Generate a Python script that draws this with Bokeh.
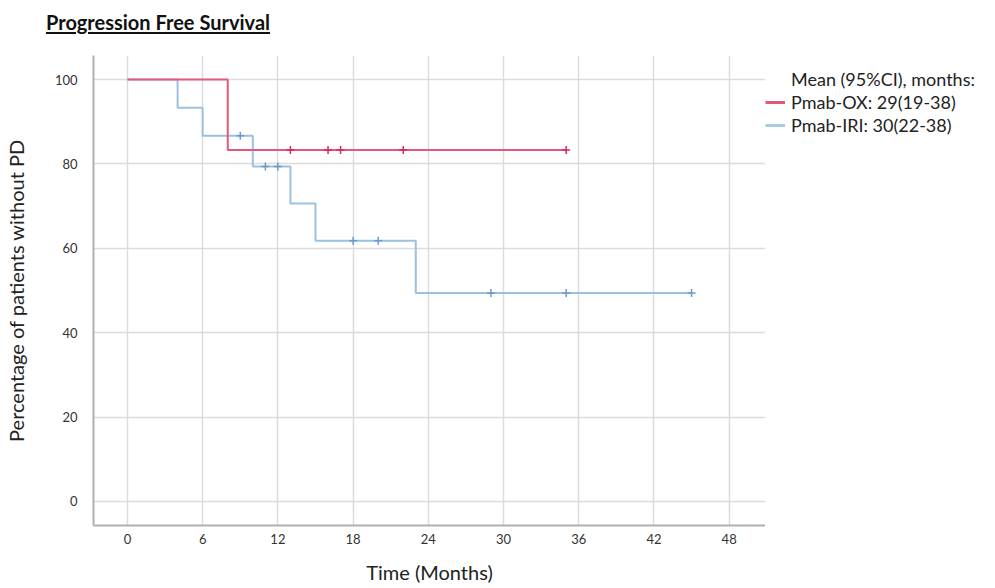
from bokeh.plotting import figure
from bokeh.models import Range1d, FixedTicker, Legend, LegendItem, Div
from bokeh.layouts import column, row
from bokeh.embed import file_html
from bokeh.resources import INLINE

# Kaplan-Meier step data (months, % without PD)
ox_time = [0, 8, 35]
ox_surv = [100, 83.3, 83.3]
ox_cens_t = [13, 16, 17, 22, 35]
ox_cens_s = [83.3, 83.3, 83.3, 83.3, 83.3]

iri_time = [0, 4, 6, 10, 13, 15, 23, 45]
iri_surv = [100, 93.3, 86.7, 79.4, 70.6, 61.8, 49.4, 49.4]
iri_cens_t = [9, 11, 12, 18, 20, 29, 35, 45]
iri_cens_s = [86.7, 79.4, 79.4, 61.8, 61.8, 49.4, 49.4, 49.4]

x_ticks = [0, 6, 12, 18, 24, 30, 36, 42, 48]
y_ticks = [0, 20, 40, 60, 80, 100]

title_text = "Progression Free Survival"
legend_header = "Mean (95%CI), months:"
legend_ox = "Pmab-OX: 29(19-38)"
legend_iri = "Pmab-IRI: 30(22-38)"

RED = "#e5587c"
RED_D = "#d42a5c"
BLUE = "#9cc1df"
BLUE_D = "#6a9bcf"
FONT = "Lato"

title = Div(text='<div style="padding: 10px 0 0 46px; font-family: Lato; font-size: 20px; '
                 'font-weight: bold; color: #111111; line-height: 24px;">'
                 '<span style="text-decoration: underline; text-decoration-thickness: 2px; '
                 'text-underline-offset: 2px;">' + title_text + '</span></div>',
            width=995, height=36, margin=(0, 0, 0, 0))

p = figure(width=765, height=551, output_backend="svg", toolbar_location=None,
           x_range=Range1d(-2.71, 50.9), y_range=Range1d(-5.7, 105.7),
           min_border_left=93, min_border_right=0, min_border_top=19, min_border_bottom=62)
p.outline_line_color = None

for ax in (p.xaxis[0], p.yaxis[0]):
    ax.axis_line_color = "#b0b0b0"
    ax.axis_line_width = 2
    ax.major_tick_line_color = None
    ax.minor_tick_line_color = None
    ax.major_tick_out = 0
    ax.major_tick_in = 0
    ax.minor_tick_out = 0
    ax.major_label_text_font = FONT
    ax.major_label_text_font_size = "13px"
    ax.major_label_text_color = "#333333"
    ax.axis_label_text_font = FONT
    ax.axis_label_text_font_size = "20px"
    ax.axis_label_text_font_style = "normal"
    ax.axis_label_text_color = "#222222"

p.xaxis.ticker = FixedTicker(ticks=x_ticks)
p.yaxis.ticker = FixedTicker(ticks=y_ticks)
p.xaxis.axis_label = "Time (Months)"
p.yaxis.axis_label = "Percentage of patients without PD"
p.xaxis.major_label_standoff = 8
p.xaxis.axis_label_standoff = 13
p.yaxis.major_label_standoff = 16
p.yaxis.axis_label_standoff = 24

p.grid.grid_line_color = "#dcdcdc"
p.grid.grid_line_width = 1.5

p.step(iri_time, iri_surv, mode="after", line_color=BLUE, line_width=2)
p.scatter(iri_cens_t, iri_cens_s, marker="cross", size=8, line_color=BLUE_D, line_width=1.5)
p.step(ox_time, ox_surv, mode="after", line_color=RED, line_width=2)
p.scatter(ox_cens_t, ox_cens_s, marker="cross", size=8, line_color=RED_D, line_width=1.5)

# legend panel
lf = figure(width=230, height=551, output_backend="svg", toolbar_location=None,
            x_range=Range1d(0, 1), y_range=Range1d(0, 1),
            x_axis_location=None, y_axis_location=None,
            min_border_left=0, min_border_right=0, min_border_top=0, min_border_bottom=0)
lf.outline_line_color = None
lf.grid.visible = False

r_hdr = lf.line([0, 0], [0, 0], line_alpha=0)
r_ox_leg = lf.line([0, 0], [0, 0], line_color=RED, line_width=3)
r_iri_leg = lf.line([0, 0], [0, 0], line_color="#a9cde0", line_width=3)

legend = Legend(items=[LegendItem(label=legend_header, renderers=[r_hdr]),
                       LegendItem(label=legend_ox, renderers=[r_ox_leg]),
                       LegendItem(label=legend_iri, renderers=[r_iri_leg])],
                location=(0, 389), background_fill_alpha=0, border_line_color=None,
                label_text_font=FONT, label_text_font_size="18px", label_text_color="#222222",
                glyph_width=20, label_standoff=6, spacing=1, padding=0, margin=0,
                label_height=22, glyph_height=22)
lf.add_layout(legend, "center")

layout = column(title, row(p, lf, spacing=0), spacing=0)
open("out.html", "w").write(file_html(layout, INLINE))
